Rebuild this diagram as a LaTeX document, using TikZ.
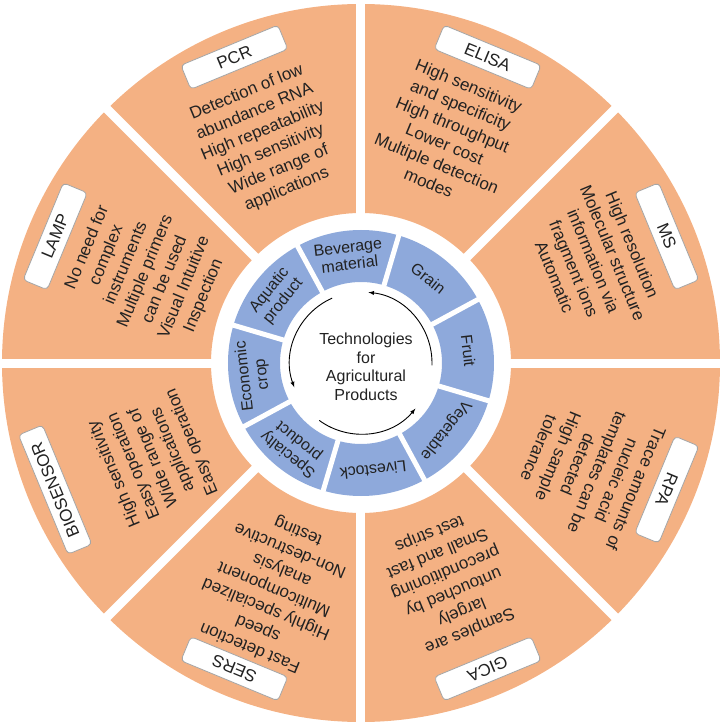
\documentclass[tikz,border=0pt]{standalone}
\usepackage{fontspec}
\setmainfont{Liberation Sans}
\definecolor{orangeclair}{HTML}{F4B183}
\definecolor{bleuclair}{HTML}{8EA9DB}
\definecolor{encre}{HTML}{222222}

\begin{document}
\begin{tikzpicture}[x=1pt,y=1pt,text=encre,
    etiquette/.style={draw=gray!70,line width=.8,fill=white,rounded corners=4,
        minimum width=105,minimum height=26,inner xsep=14,inner ysep=2,
        font=\fontsize{17}{20}\selectfont},
    bloc/.style={align=center,inner sep=0,font=\fontsize{17}{21}\selectfont},
    produit/.style={align=center,inner sep=0,font=\fontsize{16}{17.5}\selectfont}]
    \useasboundingbox (-361,-360) rectangle (362,363);
    % couronne des techniques
    \fill[orangeclair,even odd rule] (0,0) circle(359) circle(150);
    \foreach\a in {0,45,...,315}
        \draw[white,line width=9] (\a:140) -- (\a:370);
    % couronne des produits
    \fill[bleuclair,even odd rule] (0,0) circle(133) circle(81);
    \foreach\a in {28.5,73.5,...,343.5}
        \draw[white,line width=5] (\a:75) -- (\a:140);
    % techniques
    \foreach\a/\t/\nom/\r/\txt in {
        112.5/113/PCR/241/{Detection of low\\abundance RNA\\High repeatability\\High sensitivity\\Wide range of\\applications},
        67.5/69/ELISA/245/{High sensitivity\\and specificity\\High throughput\\Lower cost\\Multiple detection\\modes},
        22.5/23.7/MS/254/{High resolution\\Molecular structure\\information via\\fragment ions\\Automatic},
        -22.5/-25/RPA/250/{Trace amounts of\\nucleic acid\\templates can be\\detected\\High sample\\tolerance},
        -67.5/-68/GICA/236/{Samples are\\largely\\untouched by\\preconditioning\\Small and fast\\test strips},
        -112.5/-111/SERS/242/{Fast detection\\speed\\Highly specialized\\Multicomponent\\analysis\\Non-destructive\\testing},
        202.5/204.5/BIOSENSOR/228/{High sensitivity\\Easy operation\\Wide range of\\applications\\Easy operation},
        157.5/157/LAMP/234/{No need for\\complex\\instruments\\Multiple primers\\can be used\\Visual Intuitive\\Inspection}}{
        \node[etiquette,rotate=\a-90] (\nom) at (\a:331) {\nom};
        \node[bloc,rotate=\a-90] (\nom-txt) at (\t:\r) {\txt};
    }
    % produits
    \foreach\a/\nom/\txt in {96.5/boisson/{Beverage\\material},51.5/grain/Grain,
        6.5/fruit/Fruit,-38.5/legume/Vegetable,-83.5/betail/Livestock,
        -128.5/special/{Specialty\\product},186.5/eco/{Economic\\crop},
        141.5/aqua/{Aquatic\\product}}
        \node[produit,rotate=\a-90] (\nom) at (\a:108) {\txt};
    % centre
    \node[align=center,font=\fontsize{16}{18.5}\selectfont] (centre) at (5,-4)
        {Technologies\\for\\Agricultural\\Products};
    \foreach\d in {-2,114,234}
        \draw[-latex,line width=.9] (\d:71) arc[start angle=\d,delta angle=86,radius=71];
\end{tikzpicture}
\end{document}
